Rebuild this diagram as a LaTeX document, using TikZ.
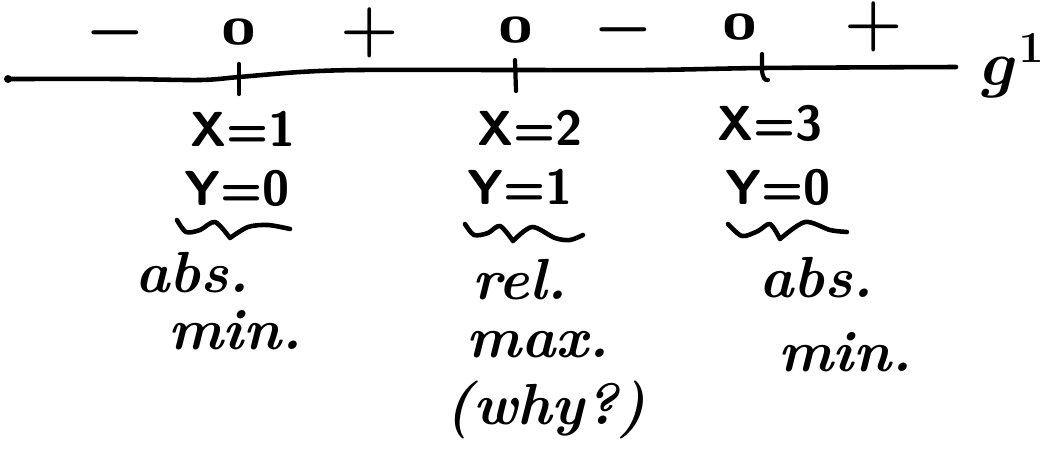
\RequirePackage{fix-cm}
\documentclass[tikz,border=0pt]{standalone}
\usepackage{amsmath}
\usepackage{graphicx}
\usepackage{tikz}

\begin{document}
\begin{tikzpicture}[x=0.02cm, y=-0.02cm, line cap=round, line join=round,
  sign/.style={inner sep=3pt, font=\boldmath\fontsize{38}{44}\selectfont},
  zero/.style={inner sep=0pt, font=\sffamily\bfseries\fontsize{24}{28}\selectfont},
  val/.style={inner sep=0pt, font=\sffamily\bfseries\fontsize{28}{34}\selectfont},
  word/.style={inner sep=0pt, font=\bfseries\itshape\fontsize{33}{39}\selectfont},
  axisline/.style={line width=2.6pt},
  tickmark/.style={line width=2.4pt},
  squig/.style={line width=2.6pt}]
\useasboundingbox (0,0) rectangle (1055,453);
% sign row of g'
\node[sign] (m1) at (115,33) {$-$};
\node[zero] (z1) at (239,32) {\scalebox{1.5}[0.85]{0}};
\node[sign] (p1) at (370,33) {$+$};
\node[zero] (z2) at (516,30) {\scalebox{1.5}[0.85]{0}};
\node[sign] (m2) at (623,30) {$-$};
\node[zero] (z3) at (740,27) {\scalebox{1.5}[0.85]{0}};
\node[sign] (p2) at (874,27) {$+$};
% number line
\coordinate (axL) at (8,79);
\coordinate (axR) at (956,67);
\draw[axisline] plot[smooth] coordinates {(axL) (120,79) (200,80) (239,77) (300,72) (360,70) (515,70) (650,70) (763,68) (axR)};
\fill (axL) circle (4);
\node[inner sep=0pt, font=\boldmath\fontsize{36}{42}\selectfont] (gp) at (1013,66) {$g^1$};
\coordinate (t1) at (239,78);
\coordinate (t2) at (515,71);
\coordinate (t3) at (762,68);
\draw[tickmark] (t1) ++(0,-14) -- ++(0,30);
\draw[tickmark] (t2) ++(0,-11) -- ++(1,31);
\draw[tickmark] (t3) ++(0,-14) -- ++(0,17) .. controls +(1,7) and +(-3,1) .. ++(6,9);
% critical points
\node[val] (x1) at (243,129) {X=1};
\node[val] (x2) at (530,128) {X=2};
\node[val] (x3) at (770,123) {X=3};
\node[val] (y1) at (237,188) {Y=0};
\node[val] (y2) at (520,187) {Y=1};
\node[val] (y3) at (778,187) {Y=0};
% underbraces
\draw[squig] plot[smooth] coordinates {(177,220) (186,232) (200,230) (215,222) (230,238)}
  plot[smooth] coordinates {(230,238) (248,227) (268,225) (290,229)};
\draw[squig] plot[smooth] coordinates {(465,224) (474,235) (488,233) (500,226) (513,241)}
  plot[smooth] coordinates {(513,241) (532,227) (555,238) (570,240) (583,235)};
\draw[squig] plot[smooth] coordinates {(728,224) (742,236) (758,231) (770,224) (780,239)}
  plot[smooth] coordinates {(780,239) (805,222) (830,230) (847,232)};
% kind of extremum
\node[word] (abs1) at (192,273) {abs.};
\node[word] (rel2) at (520,280) {rel.};
\node[word] (abs3) at (816,278) {abs.};
\node[word] (min1) at (235,330) {min.};
\node[word] (max2) at (538,345) {max.};
\node[word] (min3) at (845,352) {min.};
\node[word] (why) at (546,410) {(why?)};
\end{tikzpicture}
\end{document}
